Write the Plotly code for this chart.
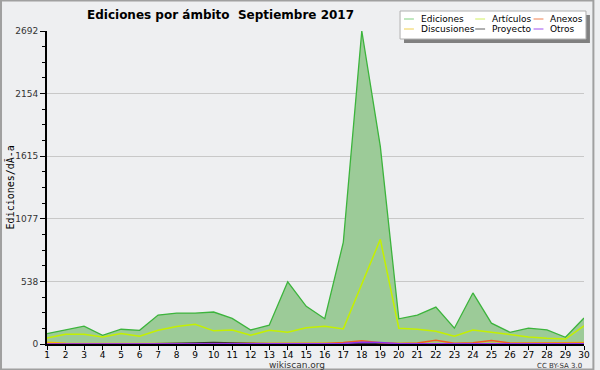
import plotly.graph_objects as go

dias = list(range(1, 31))
ediciones = [90,121,153,75,127,118,249,266,266,275,220,121,162,535,324,217,873,2692,1700,217,248,318,136,439,179,101,136,121,58,223]
articulos = [52,84,84,61,90,66,118,150,170,113,121,75,118,101,139,153,130,510,900,136,127,110,66,121,101,84,61,49,43,156]
discusiones = [15,6,4,3,4,3,5,4,4,5,6,4,5,8,10,6,5,6,4,3,4,5,3,4,5,3,4,4,5,12]
anexos = [3,2,2,1,2,1,2,2,3,4,3,2,3,5,6,4,12,28,10,5,8,32,6,10,30,8,6,5,4,6]
proyecto = [2,3,6,2,2,1,2,3,8,12,8,3,2,2,2,3,5,8,5,2,3,4,2,5,6,4,6,5,3,2]
otros = [1,1,1,1,1,1,1,1,2,2,1,1,1,1,1,2,4,14,12,3,3,4,6,5,4,3,3,2,2,2]
yticks = [0, 538, 1077, 1615, 2154, 2692]

series = [
    ("Ediciones", ediciones, "#3cb43c", "#80d080"),
    ("Artículos", articulos, "#c4f000", "#d0f060"),
    ("Anexos", anexos, "#f06020", "#f08050"),
    ("Discusiones", discusiones, "#f0c000", "#f0d050"),
    ("Proyecto", proyecto, "#303030", "#606060"),
    ("Otros", otros, "#9030f0", "#a050f0"),
]

W, H = 600, 370
L, R, T, B = 47, 10, 31, 26
pw, ph = W - L - R, H - T - B

def px(x):
    return (x - L) / pw

def py(y):
    return (H - B - y) / ph

fig = go.Figure()
fig.add_trace(go.Scatter(x=dias, y=ediciones, mode="lines", fill="tozeroy",
                         fillcolor="#9ccb98", line=dict(color="#3cb43c", width=1.3),
                         showlegend=False, hoverinfo="skip"))
for name, vals, col, _ in [series[1], series[3], series[4], series[2], series[5]]:
    fig.add_trace(go.Scatter(x=dias, y=vals, mode="lines", line=dict(color=col, width=1.5),
                             showlegend=False, name=name))

shapes = []
annotations = []
# outer border
shapes.append(dict(type="rect", xref="paper", yref="paper",
                   x0=px(0.5), x1=px(W - 0.5), y0=py(H - 0.5), y1=py(0.5),
                   line=dict(color="#a0a0a0", width=2), fillcolor="rgba(0,0,0,0)", layer="above"))
# legend box shadow + box
shapes.append(dict(type="rect", xref="paper", yref="paper",
                   x0=px(408), x1=px(596), y0=py(43), y1=py(15),
                   line=dict(width=0), fillcolor="#808080", layer="above"))
shapes.append(dict(type="rect", xref="paper", yref="paper",
                   x0=px(404), x1=px(592), y0=py(39), y1=py(11),
                   line=dict(color="#b0b0b0", width=1), fillcolor="#ffffff", layer="above"))
cols = [408, 480, 539]
rows = [19, 29]
for i, (name, _, _, lcol) in enumerate(series):
    cx = cols[i % 3]
    ry = rows[i // 3]
    shapes.append(dict(type="line", xref="paper", yref="paper",
                       x0=px(cx), x1=px(cx + 10), y0=py(ry), y1=py(ry),
                       line=dict(color=lcol, width=1), layer="above"))
    annotations.append(dict(text=name, xref="paper", yref="paper", x=px(cx + 15), y=py(ry),
                            xanchor="left", yanchor="middle", showarrow=False,
                            font=dict(family="DejaVu Sans", size=9, color="#000000")))

annotations.append(dict(text="<b>Ediciones por ámbito  Septiembre 2017</b>", xref="paper", yref="paper",
                        x=px(85), y=py(15), xanchor="left", yanchor="middle", showarrow=False,
                        font=dict(family="DejaVu Sans", size=12, color="#000000")))
annotations.append(dict(text="wikiscan.org", xref="paper", yref="paper",
                        x=px(300), y=py(365), xanchor="center", yanchor="middle", showarrow=False,
                        font=dict(family="DejaVu Sans", size=9, color="#333333")))
annotations.append(dict(text="CC BY-SA 3.0", xref="paper", yref="paper",
                        x=px(590), y=py(366), xanchor="right", yanchor="middle", showarrow=False,
                        font=dict(family="DejaVu Sans", size=7, color="#333333")))
annotations.append(dict(text="Ediciones/dÃ-a", xref="paper", yref="paper",
                        x=px(10), y=py(187), xanchor="center", yanchor="middle", showarrow=False,
                        textangle=-90,
                        font=dict(family="DejaVu Sans Mono", size=10, color="#000000")))

fig.update_layout(
    width=W, height=H,
    margin=dict(l=L, r=R, t=T, b=B, pad=0),
    paper_bgcolor="#eeeff1", plot_bgcolor="#eeeff1",
    showlegend=False,
    shapes=shapes, annotations=annotations,
    xaxis=dict(range=[1, 30], tickmode="array", tickvals=dias, ticktext=[str(d) for d in dias],
               ticks="outside", ticklen=4, tickcolor="#000000", showgrid=False, zeroline=False,
               showline=True, linecolor="#000000", linewidth=2, ticklabelstandoff=-3,
               tickfont=dict(family="DejaVu Sans", size=9, color="#000000")),
    yaxis=dict(range=[0, 2692], tickmode="array", tickvals=yticks, ticktext=[str(v) for v in yticks],
               ticks="outside", ticklen=5, tickcolor="#000000", showgrid=True, gridcolor="#c8c8c8",
               gridwidth=1, zeroline=False, showline=True, linecolor="#000000", linewidth=2,
               minor=dict(tickmode="linear", tick0=0, dtick=2692/20, ticks="outside", ticklen=3,
                          tickcolor="#000000", showgrid=False),
               tickfont=dict(family="DejaVu Sans", size=9, color="#333333")),
)

fig.write_html("out.html", config={"displayModeBar": False},
               post_script="document.body.style.margin='0';document.body.style.overflow='hidden';")
